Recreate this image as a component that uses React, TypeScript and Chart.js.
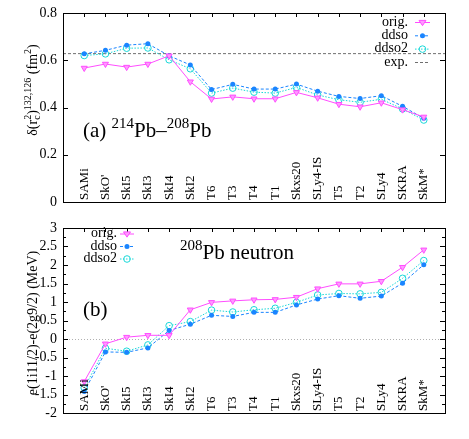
import React, { useEffect, useRef } from "react";
import { Chart, registerables } from "chart.js";
Chart.register(...registerables);

const categories = ["SAMi", "SkO'", "SkI5", "SkI3", "SkI4", "SkI2", "T6", "T3", "T4", "T1", "Skxs20", "SLy4-IS", "T5", "T2", "SLy4", "SKRA", "SkM*"];

const radiusOrig = [0.567, 0.584, 0.571, 0.584, 0.619, 0.509, 0.436, 0.445, 0.437, 0.437, 0.464, 0.441, 0.414, 0.403, 0.42, 0.391, 0.36];
const radiusDdso = [0.627, 0.642, 0.664, 0.67, 0.619, 0.58, 0.476, 0.498, 0.478, 0.478, 0.499, 0.469, 0.447, 0.438, 0.45, 0.405, 0.354];
const radiusDdso2 = [0.62, 0.627, 0.651, 0.652, 0.602, 0.564, 0.461, 0.482, 0.465, 0.461, 0.485, 0.453, 0.433, 0.422, 0.435, 0.394, 0.347];
const radiusExp = 0.628;

const gapOrig = [-1.15, -0.13, 0.05, 0.1, 0.1, 0.79, 0.99, 1.03, 1.06, 1.07, 1.13, 1.36, 1.49, 1.49, 1.56, 1.94, 2.41];
const gapDdso = [-1.42, -0.35, -0.36, -0.24, 0.23, 0.4, 0.64, 0.61, 0.72, 0.72, 0.92, 1.08, 1.17, 1.1, 1.16, 1.51, 2.01];
const gapDdso2 = [-1.32, -0.25, -0.33, -0.16, 0.36, 0.47, 0.78, 0.73, 0.79, 0.83, 0.99, 1.19, 1.23, 1.22, 1.26, 1.64, 2.12];

const FONT = "'Liberation Serif', 'DejaVu Serif', serif";
const C_ORIG = "#ff4dff";
const C_DDSO = "#1a85ff";
const C_DDSO2 = "#19d8d8";
const C_EXP = "#6e6e6e";

type Seg = { t: string; size: number; dy?: number; stack?: Seg };

function segWidth(ctx: CanvasRenderingContext2D, s: Seg) {
  ctx.font = `${s.size}px ${FONT}`;
  let w = ctx.measureText(s.t).width;
  if (s.stack) {
    ctx.font = `${s.stack.size}px ${FONT}`;
    w = Math.max(w, ctx.measureText(s.stack.t).width);
  }
  return w;
}

function drawRich(ctx: CanvasRenderingContext2D, segs: Seg[], x: number, y: number, align: "left" | "center") {
  const total = segs.reduce((a, s) => a + segWidth(ctx, s), 0);
  let cx = align === "center" ? x - total / 2 : x;
  ctx.textAlign = "left";
  ctx.textBaseline = "alphabetic";
  ctx.fillStyle = "#000";
  for (const s of segs) {
    const w = segWidth(ctx, s);
    ctx.font = `${s.size}px ${FONT}`;
    ctx.fillText(s.t, cx, y + (s.dy || 0));
    if (s.stack) {
      ctx.font = `${s.stack.size}px ${FONT}`;
      ctx.fillText(s.stack.t, cx, y + (s.stack.dy || 0));
    }
    cx += w;
  }
}

function drawMarker(ctx: CanvasRenderingContext2D, kind: string, x: number, y: number) {
  ctx.save();
  ctx.setLineDash([]);
  ctx.lineWidth = 1;
  if (kind === "orig") {
    const r = 3.5;
    ctx.beginPath();
    ctx.moveTo(x - r, y - r * 0.6);
    ctx.lineTo(x + r, y - r * 0.6);
    ctx.lineTo(x, y + r * 0.9);
    ctx.closePath();
    ctx.fillStyle = "#ff99ff";
    ctx.strokeStyle = C_ORIG;
    ctx.fill();
    ctx.stroke();
  } else if (kind === "ddso") {
    ctx.beginPath();
    ctx.arc(x, y, 2.5, 0, Math.PI * 2);
    ctx.fillStyle = C_DDSO;
    ctx.fill();
  } else if (kind === "ddso2") {
    ctx.beginPath();
    ctx.arc(x, y, 3.3, 0, Math.PI * 2);
    ctx.strokeStyle = C_DDSO2;
    ctx.stroke();
  }
  ctx.restore();
}

type LegendItem = { label: string; kind: string; color: string; dash: number[] };

function drawLegend(ctx: CanvasRenderingContext2D, items: LegendItem[], textRight: number, x1: number, x2: number, ys: number[]) {
  items.forEach((it, i) => {
    const y = ys[i];
    ctx.save();
    ctx.font = `14px ${FONT}`;
    ctx.fillStyle = "#000";
    ctx.textAlign = "right";
    ctx.textBaseline = "middle";
    ctx.fillText(it.label, textRight, y);
    ctx.strokeStyle = it.color;
    ctx.lineWidth = 1;
    ctx.setLineDash(it.dash);
    ctx.beginPath();
    ctx.moveTo(x1, y + 0.5);
    ctx.lineTo(x2, y + 0.5);
    ctx.stroke();
    ctx.restore();
    drawMarker(ctx, it.kind, (x1 + x2) / 2, y + 0.5);
  });
}

const legendItems: LegendItem[] = [
  { label: "orig.", kind: "orig", color: C_ORIG, dash: [] },
  { label: "ddso", kind: "ddso", color: C_DDSO, dash: [3, 2] },
  { label: "ddso2", kind: "ddso2", color: C_DDSO2, dash: [1.5, 1.5] },
  { label: "exp.", kind: "exp", color: C_EXP, dash: [3, 2] },
];

function makeDatasets(orig: number[], ddso: number[], ddso2: number[]) {
  const pts = (arr: number[]) => arr.map((v, i) => ({ x: i, y: v }));
  return [
    {
      label: "orig.",
      data: pts(orig),
      borderColor: C_ORIG,
      backgroundColor: "#ff99ff",
      borderWidth: 1,
      pointStyle: "triangle",
      rotation: 180,
      pointRadius: 3.5,
      pointBorderWidth: 1,
    },
    {
      label: "ddso",
      data: pts(ddso),
      borderColor: C_DDSO,
      backgroundColor: C_DDSO,
      borderWidth: 1,
      borderDash: [3, 2],
      pointStyle: "circle",
      pointRadius: 2.5,
      pointBorderWidth: 0,
    },
    {
      label: "ddso2",
      data: pts(ddso2),
      borderColor: C_DDSO2,
      backgroundColor: "rgba(0,0,0,0)",
      borderWidth: 1,
      borderDash: [1.5, 1.5],
      pointStyle: "circle",
      pointRadius: 3.3,
      pointBorderWidth: 1,
    },
  ];
}

function framePlugin(panel: "a" | "b") {
  return {
    id: "frame" + panel,
    beforeDatasetsDraw(chart: any) {
      const { ctx, chartArea: ca, scales } = chart;
      if (panel === "b") {
        const y0 = scales.y.getPixelForValue(0);
        ctx.save();
        ctx.strokeStyle = "#b0b0b0";
        ctx.lineWidth = 1;
        ctx.setLineDash([1, 2]);
        ctx.beginPath();
        ctx.moveTo(ca.left, Math.round(y0) + 0.5);
        ctx.lineTo(ca.right, Math.round(y0) + 0.5);
        ctx.stroke();
        ctx.restore();
      }
    },
    afterDraw(chart: any) {
      const { ctx, chartArea: ca, scales } = chart;
      ctx.save();
      // frame
      ctx.strokeStyle = "#000";
      ctx.lineWidth = 1;
      ctx.setLineDash([]);
      ctx.strokeRect(Math.round(ca.left) + 0.5, Math.round(ca.top) + 0.5, Math.round(ca.right - ca.left), Math.round(ca.bottom - ca.top));
      // x ticks at categories (top)
      ctx.beginPath();
      categories.forEach((_, i) => {
        const x = Math.round(scales.x.getPixelForValue(i)) + 0.5;
        ctx.moveTo(x, ca.top);
        ctx.lineTo(x, ca.top + 4);
      });
      // y ticks
      const ys = scales.y;
      const step = panel === "a" ? 0.2 : 0.25;
      for (let v = ys.min; v <= ys.max + 1e-9; v += step) {
        const y = Math.round(ys.getPixelForValue(v)) + 0.5;
        const major = panel === "a" || Math.abs(v * 2 - Math.round(v * 2)) < 1e-6;
        const len = major ? 5 : 3;
        ctx.moveTo(ca.left, y);
        ctx.lineTo(ca.left + len, y);
        ctx.moveTo(ca.right, y);
        ctx.lineTo(ca.right - len, y);
      }
      ctx.stroke();
      // category labels inside plot
      ctx.font = `13px ${FONT}`;
      ctx.fillStyle = "#000";
      ctx.textAlign = "left";
      ctx.textBaseline = "middle";
      categories.forEach((c, i) => {
        const x = scales.x.getPixelForValue(i);
        ctx.save();
        ctx.translate(x, ca.bottom - 2);
        ctx.rotate(-Math.PI / 2);
        ctx.fillText(c, 0, 0);
        ctx.restore();
      });
      // y title
      ctx.save();
      if (panel === "a") {
        ctx.translate(37, 90);
        ctx.rotate(-Math.PI / 2);
        drawRich(
          ctx,
          [
            { t: "δ(r", size: 14 },
            { t: "c", size: 10, dy: 3, stack: { t: "2", size: 10, dy: -6 } },
            { t: ")", size: 14 },
            { t: "132,126", size: 10, dy: -6 },
            { t: " (fm", size: 14 },
            { t: "2", size: 10, dy: -6 },
            { t: ")", size: 14 },
          ],
          0,
          0,
          "center"
        );
      } else {
        ctx.translate(37, 323 - 215);
        ctx.rotate(-Math.PI / 2);
        drawRich(ctx, [{ t: "e(1i11/2)-e(2g9/2) (MeV)", size: 14 }], 0, 0, "center");
      }
      ctx.restore();
      // annotations and legend
      if (panel === "a") {
        drawRich(
          ctx,
          [
            { t: "(a) ", size: 21 },
            { t: "214", size: 15, dy: -9 },
            { t: "Pb–", size: 21 },
            { t: "208", size: 15, dy: -9 },
            { t: "Pb", size: 21 },
          ],
          83,
          137,
          "left"
        );
        drawLegend(ctx, legendItems, 408, 415, 430, [22, 35.3, 48.6, 62]);
      } else {
        drawRich(
          ctx,
          [
            { t: "208", size: 15, dy: -9 },
            { t: "Pb neutron", size: 21 },
          ],
          180,
          259 - 215,
          "left"
        );
        drawRich(ctx, [{ t: "(b)", size: 21 }], 83, 316 - 215, "left");
        drawLegend(ctx, legendItems.slice(0, 3), 117, 120, 134, [233.5 - 215, 246 - 215, 258.5 - 215]);
      }
      ctx.restore();
    },
  };
}

function Panel({ panel, height, top, bottomPad, topPad }: { panel: "a" | "b"; height: number; top: number; bottomPad: number; topPad: number }) {
  const ref = useRef<HTMLCanvasElement | null>(null);
  useEffect(() => {
    if (!ref.current) return;
    const datasets: any[] =
      panel === "a" ? makeDatasets(radiusOrig, radiusDdso, radiusDdso2) : makeDatasets(gapOrig, gapDdso, gapDdso2);
    if (panel === "a") {
      datasets.push({
        label: "exp.",
        data: [
          { x: -1, y: radiusExp },
          { x: categories.length, y: radiusExp },
        ],
        borderColor: C_EXP,
        borderWidth: 1,
        borderDash: [3, 2],
        pointRadius: 0,
      });
    }
    const chart = new Chart(ref.current, {
      type: "line",
      data: { datasets },
      options: {
        animation: false,
        responsive: false,
        maintainAspectRatio: false,
        layout: { padding: { left: 0, right: 24, top: topPad, bottom: bottomPad } },
        plugins: { legend: { display: false }, tooltip: { enabled: false } },
        scales: {
          x: {
            type: "linear",
            min: -1,
            max: categories.length,
            display: false,
          },
          y: {
            type: "linear",
            min: panel === "a" ? 0 : -2,
            max: panel === "a" ? 0.8 : 3,
            afterFit: (s: any) => {
              s.width = 63;
            },
            border: { display: false },
            grid: { display: false, drawTicks: false },
            ticks: {
              stepSize: panel === "a" ? 0.2 : 0.5,
              padding: 6,
              color: "#000",
              font: { family: FONT, size: 14, lineHeight: 1 },
              callback: (v: any) => String(+Number(v).toFixed(1)),
            },
          },
        },
      } as any,
      plugins: [framePlugin(panel)],
    });
    return () => chart.destroy();
  }, [panel, topPad, bottomPad]);
  return (
    <canvas
      ref={ref}
      width={469}
      height={height}
      style={{ position: "absolute", left: 0, top, width: 469, height, display: "block" }}
    />
  );
}

export default function App() {
  useEffect(() => {
    document.body.style.margin = "0";
    document.body.style.background = "#fff";
  }, []);
  return (
    <div style={{ position: "relative", width: 469, height: 439, background: "#fff" }}>
      <Panel panel="a" height={215} top={0} topPad={13} bottomPad={13} />
      <Panel panel="b" height={224} top={215} topPad={8} bottomPad={26} />
    </div>
  );
}
